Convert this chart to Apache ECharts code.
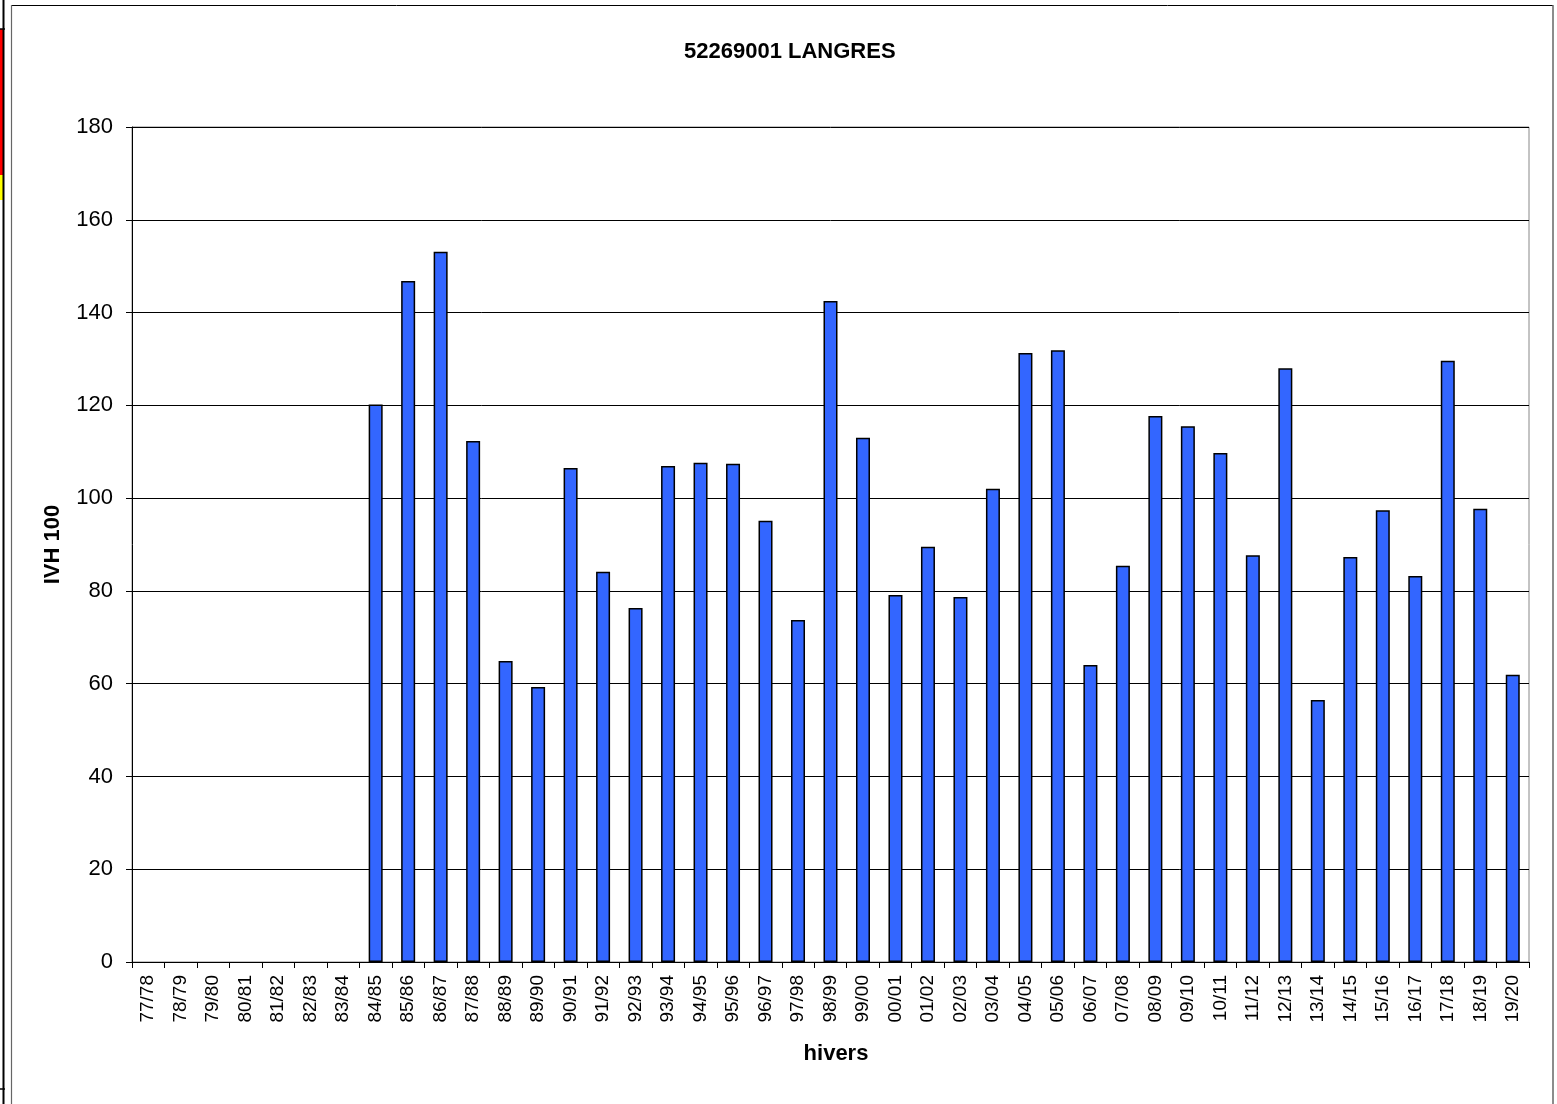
<!DOCTYPE html>
<html>
<head>
<meta charset="utf-8">
<script src="https://cdn.jsdelivr.net/npm/echarts@6/dist/echarts.min.js"></script>
<style>
  html, body { margin: 0; padding: 0; background: #fff; }
  #chart { width: 1557px; height: 1104px; }
</style>
</head>
<body>
<div id="chart"></div>
<script>
const chartTitle = '52269001 LANGRES';
const yAxisName = 'IVH 100';
const xAxisName = 'hivers';
const winters = ['77/78','78/79','79/80','80/81','81/82','82/83','83/84','84/85','85/86','86/87',
  '87/88','88/89','89/90','90/91','91/92','92/93','93/94','94/95','95/96','96/97','97/98','98/99',
  '99/00','00/01','01/02','02/03','03/04','04/05','05/06','06/07','07/08','08/09','09/10','10/11',
  '11/12','12/13','13/14','14/15','15/16','16/17','17/18','18/19','19/20'];
const ivh100 = [null,null,null,null,null,null,null,120.2,146.8,153.1,
  112.3,64.9,59.3,106.5,84.1,76.3,106.9,107.6,107.4,95.1,73.7,142.5,
  113.0,79.1,89.5,78.7,102.0,131.3,131.9,64.0,85.4,117.7,115.5,109.7,
  87.7,128.0,56.5,87.3,97.4,83.2,129.6,97.7,61.9];
const yTicks = { min: 0, max: 180, interval: 20 };

const chart = echarts.init(document.getElementById('chart'), null, { renderer: 'canvas' });
const font = '"Liberation Sans", Arial, sans-serif';
chart.setOption({
  animation: false,
  backgroundColor: '#fff',
  title: {
    text: chartTitle,
    left: 679, top: 36,
    textStyle: { fontFamily: font, fontSize: 22, fontWeight: 'bold', color: '#000' }
  },
  grid: { left: 132, right: 28, top: 127, bottom: 142, show: true, borderColor: '#888', borderWidth: 1, containLabel: false },
  xAxis: {
    type: 'category',
    data: winters,
    name: xAxisName,
    nameLocation: 'middle',
    nameGap: 81,
    nameTextStyle: { fontFamily: font, fontSize: 22, fontWeight: 'bold', color: '#000', padding: [0, 0, 0, 11] },
    axisLine: { lineStyle: { color: '#000', width: 1 } },
    axisTick: { show: true, interval: 0, alignWithLabel: false, length: 6, lineStyle: { color: '#000' } },
    axisLabel: { interval: 0, rotate: 90, margin: 13, fontFamily: font, fontSize: 19, color: '#000' },
    splitLine: { show: false }
  },
  yAxis: {
    type: 'value',
    min: yTicks.min, max: yTicks.max, interval: yTicks.interval,
    name: yAxisName,
    nameLocation: 'middle',
    nameGap: 68,
    nameRotate: 90,
    nameTextStyle: { fontFamily: font, fontSize: 22, fontWeight: 'bold', color: '#000' },
    axisLine: { show: true, lineStyle: { color: '#000', width: 1 } },
    axisTick: { show: true, length: 6, lineStyle: { color: '#000' } },
    axisLabel: { margin: 19, fontFamily: font, fontSize: 22, color: '#000' },
    splitLine: { show: true, lineStyle: { color: '#000', width: 1 } }
  },
  series: [{
    type: 'bar',
    data: ivh100,
    barWidth: 14,
    itemStyle: { color: '#3366FF', borderColor: '#000', borderWidth: 1.5 }
  }],
  graphic: [
    { type: 'rect', shape: { x: 0, y: 29, width: 3, height: 146 }, style: { fill: '#ff0000' }, silent: true },
    { type: 'rect', shape: { x: 0, y: 175, width: 3, height: 25 }, style: { fill: '#ffff00' }, silent: true },
    { type: 'line', shape: { x1: 3.5, y1: 0, x2: 3.5, y2: 1104 }, style: { stroke: '#000', lineWidth: 2 }, silent: true },
    { type: 'line', shape: { x1: 0, y1: 29, x2: 5, y2: 29 }, style: { stroke: '#000', lineWidth: 1.5 }, silent: true },
    { type: 'line', shape: { x1: 0, y1: 1089, x2: 5, y2: 1089 }, style: { stroke: '#000', lineWidth: 1.5 }, silent: true },
    { type: 'line', shape: { x1: 11, y1: 5.5, x2: 1553, y2: 5.5 }, style: { stroke: '#000', lineWidth: 1 }, silent: true },
    { type: 'line', shape: { x1: 11.5, y1: 5, x2: 11.5, y2: 1104 }, style: { stroke: '#666', lineWidth: 1.2 }, silent: true },
    { type: 'line', shape: { x1: 1553, y1: 5, x2: 1553, y2: 1104 }, style: { stroke: '#666', lineWidth: 1.5 }, silent: true }
  ]
});
</script>
</body>
</html>
